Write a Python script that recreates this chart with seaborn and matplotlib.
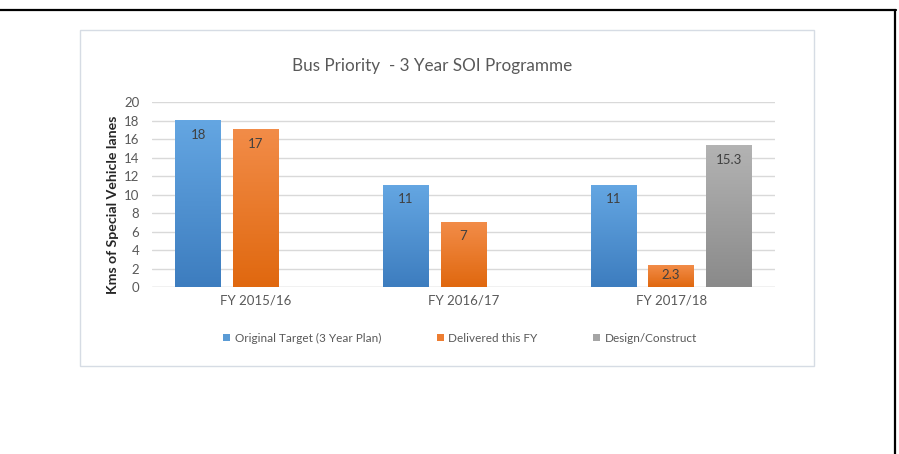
import numpy as np
import pandas as pd
import seaborn as sns
import matplotlib.pyplot as plt
from matplotlib.lines import Line2D
from matplotlib.patches import Rectangle
from matplotlib.colors import LinearSegmentedColormap

years = ['FY 2015/16', 'FY 2016/17', 'FY 2017/18']
original_target = [18, 11, 11]
delivered = [17, 7, 2.3]
design_construct = [np.nan, np.nan, 15.3]
series = ['Original Target (3 Year Plan)', 'Delivered this FY', 'Design/Construct']

df = pd.DataFrame({
    'year': years * 3,
    'series': [series[0]] * 3 + [series[1]] * 3 + [series[2]] * 3,
    'kms': original_target + delivered + design_construct,
})

sns.set_style("white")
plt.rcParams['font.family'] = ['Lato', 'DejaVu Sans']

colors = ['#5b9bd5', '#ed7d31', '#a5a5a5']
tops = ['#64a6e2', '#f28c48', '#b3b3b3']
bottoms = ['#3d7dbf', '#e0680f', '#8a8a8a']
text_grey = '#595959'

W, H = 899, 454
fig = plt.figure(figsize=(W / 100, H / 100), dpi=100)

# frame lines and chart panel
fig.add_artist(Line2D([0, 895.5 / W], [1 - 10 / H, 1 - 10 / H], color='black', lw=1.6))
fig.add_artist(Line2D([895 / W, 895 / W], [0, 1 - 10 / H], color='black', lw=1.6))
fig.add_artist(Rectangle((79.5 / W, 1 - 366 / H), (814 - 79.5) / W, (366 - 29.5) / H,
                         fill=False, edgecolor='#d6dce4', lw=1))

left, right, top, bottom = 152, 775, 102.3, 287.3
ax = fig.add_axes([left / W, 1 - bottom / H, (right - left) / W, (bottom - top) / H])

sns.barplot(data=df, x='year', y='kms', hue='series', hue_order=series,
            palette=colors, saturation=1, width=0.83, gap=0.2, linewidth=0, ax=ax)

# gradient fill, Excel style, plus value labels inside the bar tops
for i, cont in enumerate(ax.containers):
    cmap = LinearSegmentedColormap.from_list('g', [bottoms[i], tops[i]])
    for patch in cont:
        h = patch.get_height()
        if not np.isfinite(h) or h <= 0:
            continue
        x0 = patch.get_x()
        w = patch.get_width()
        grad = np.linspace(0, 1, 100).reshape(-1, 1)
        ax.imshow(grad, extent=[x0, x0 + w, 0, h], origin='lower', cmap=cmap,
                  aspect='auto', zorder=3)
        ax.text(x0 + w / 2, max(h - 1.5, h * 0.6), f'{round(h, 1):g}',
                ha='center', va='center', fontsize=9.5, color='#404040', zorder=4)

ax.set_xlim(-0.5, 2.5)
ax.set_ylim(0, 20)
ax.set_yticks(range(0, 21, 2))
ax.yaxis.grid(True, color='#d9d9d9', lw=1)
ax.set_axisbelow(True)
sns.despine(ax=ax, left=True, bottom=True)
ax.axhline(0, color='#d9d9d9', lw=1, zorder=1)
ax.tick_params(axis='both', length=0, labelsize=9.5, labelcolor=text_grey, pad=5)
ax.tick_params(axis='y', pad=9)
ax.set_xlabel('')
ax.set_ylabel('Kms of Special Vehicle lanes', fontsize=10.2, fontweight='bold',
              color='#262626')
ax.yaxis.set_label_coords(-33 / (right - left), 0.445)

fig.text(432 / W, 1 - 66 / H, 'Bus Priority  - 3 Year SOI Programme',
         ha='center', va='center', fontsize=12.3, color=text_grey)

sns.move_legend(ax, 'center', bbox_to_anchor=(460 / W, 1 - 338 / H),
                bbox_transform=fig.transFigure, ncol=3, frameon=False, title=None,
                fontsize=8.5, handlelength=0.6, handleheight=0.6, handletextpad=0.4,
                columnspacing=4.7, labelcolor=text_grey)

fig.savefig('out.png', dpi=100)
